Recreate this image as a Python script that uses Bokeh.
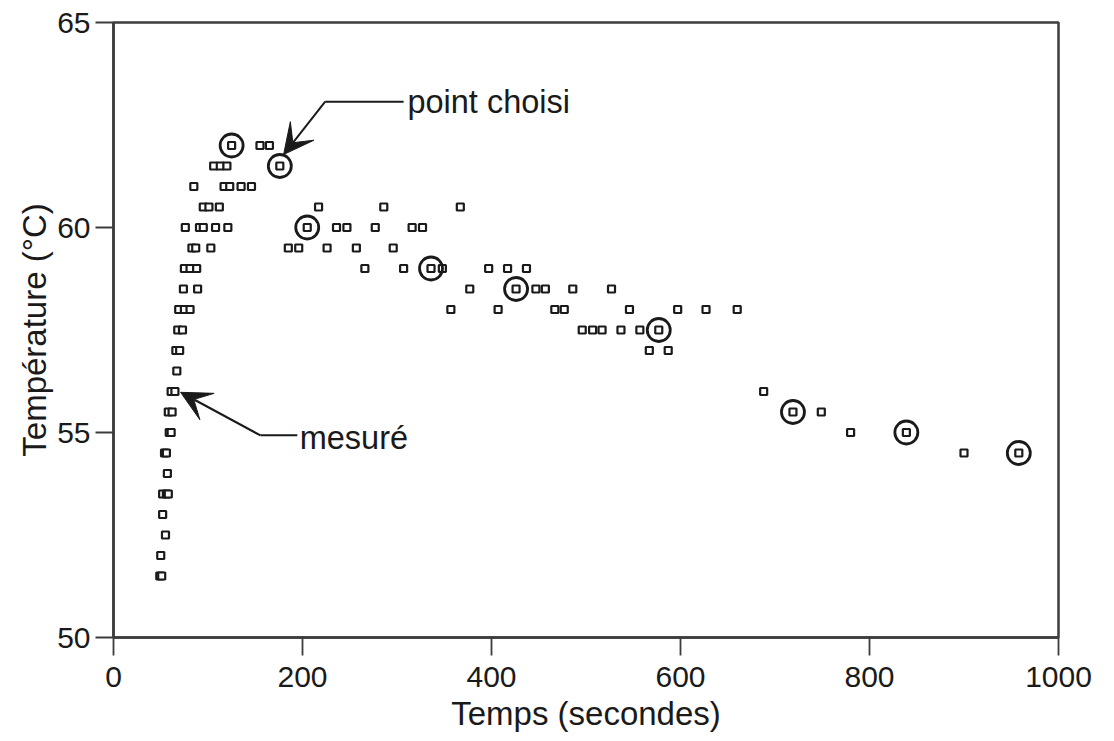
from bokeh.plotting import figure
from bokeh.models import (Range1d, FixedTicker, Label, Arrow, VeeHead,
                          ColumnDataSource)
from bokeh.embed import file_html
from bokeh.resources import INLINE

# Mesures : temps (s) et température (°C)
temps_s = [
    125, 155, 165,
    106, 113, 120, 176,
    85, 117, 123, 135, 146,
    95, 101, 112, 217, 286, 367,
    76, 91, 95, 108, 121, 205, 236, 247, 277, 316, 327,
    83, 87, 103, 185, 196, 226, 257, 296,
    75, 81, 88, 266, 307, 336, 348, 397, 417, 437,
    74, 89, 377, 426, 447, 457, 486, 527,
    69, 75, 81, 357, 407, 467, 477, 546, 597, 627, 660,
    68, 73, 496, 507, 517, 537, 557, 577,
    66, 70, 567, 587,
    67,
    61, 65, 688,
    58, 62, 719, 749,
    59, 61, 780, 839,
    54, 56, 900, 958,
    57,
    52, 56, 58,
    52,
    55,
    50,
    49, 51,
]
temperature_c = (
    [62.0] * 3 + [61.5] * 4 + [61.0] * 5 + [60.5] * 6 + [60.0] * 11
    + [59.5] * 8 + [59.0] * 10 + [58.5] * 8 + [58.0] * 11 + [57.5] * 8
    + [57.0] * 4 + [56.5] * 1 + [56.0] * 3 + [55.5] * 4 + [55.0] * 4
    + [54.5] * 4 + [54.0] * 1 + [53.5] * 3 + [53.0] * 1 + [52.5] * 1
    + [52.0] * 1 + [51.5] * 2
)

# Points retenus (entourés)
choisi_t = [125, 176, 205, 336, 426, 577, 719, 839, 958]
choisi_c = [62.0, 61.5, 60.0, 59.0, 58.5, 57.5, 55.5, 55.0, 54.5]

x_ticks = [0, 200, 400, 600, 800, 1000]
y_ticks = [50, 55, 60, 65]

FONT = "Liberation Sans"
INK = "#1a1a1a"
AXIS = "#3c3c3c"

p = figure(width=1114, height=741, output_backend="svg", toolbar_location=None,
           x_range=Range1d(0, 1000), y_range=Range1d(50, 65),
           min_border_left=113, min_border_right=56,
           min_border_top=22, min_border_bottom=104)
p.background_fill_color = "white"
p.border_fill_color = "white"
p.outline_line_color = AXIS
p.outline_line_width = 2.5
p.xgrid.visible = False
p.ygrid.visible = False

for ax, ticks in ((p.xaxis, x_ticks), (p.yaxis, y_ticks)):
    ax.ticker = FixedTicker(ticks=ticks)
    ax.axis_line_color = AXIS
    ax.axis_line_width = 2.5
    ax.major_tick_line_color = AXIS
    ax.major_tick_line_width = 1.8
    ax.major_tick_in = 0
    ax.major_tick_out = 18
    ax.minor_tick_line_color = None
    ax.major_label_text_font = FONT
    ax.major_label_text_font_size = "30px"
    ax.major_label_text_color = INK
    ax.axis_label_text_font = FONT
    ax.axis_label_text_font_size = "33px"
    ax.axis_label_text_font_style = "normal"
    ax.axis_label_text_color = INK

p.xaxis.axis_label = "Temps (secondes)"
p.xaxis.major_label_standoff = 11
p.xaxis.axis_label_standoff = 5
p.yaxis.axis_label = "Température (°C)"
p.yaxis.major_label_standoff = 5
p.yaxis.axis_label_standoff = 1

src = ColumnDataSource(dict(t=temps_s, c=temperature_c))
p.scatter("t", "c", source=src, marker="square", size=7,
          fill_color="white", line_color=INK, line_width=2.2)

sel = ColumnDataSource(dict(t=choisi_t, c=choisi_c))
p.scatter("t", "c", source=sel, marker="circle", size=23,
          fill_color=None, line_color=INK, line_width=2.8)

# Annotations
lbl_style = dict(text_font=FONT, text_font_size="32.5px", text_color=INK,
                 text_baseline="middle")
p.add_layout(Label(x=311, y=63.05, text="point choisi", **lbl_style))
p.add_layout(Label(x=197, y=54.87, text="mesuré", **lbl_style))

p.line([307, 224], [63.07, 63.07], line_color=INK, line_width=2)
p.add_layout(Arrow(x_start=224, y_start=63.07, x_end=180, y_end=61.78,
                   line_color=INK, line_width=2,
                   end=VeeHead(size=30, fill_color=INK, line_color=INK)))
p.line([194.5, 155.5], [54.93, 54.93], line_color=INK, line_width=2)
p.add_layout(Arrow(x_start=155.5, y_start=54.93, x_end=71, y_end=55.98,
                   line_color=INK, line_width=2.2,
                   end=VeeHead(size=30, fill_color=INK, line_color=INK)))

open("out.html", "w").write(file_html(p, INLINE))
